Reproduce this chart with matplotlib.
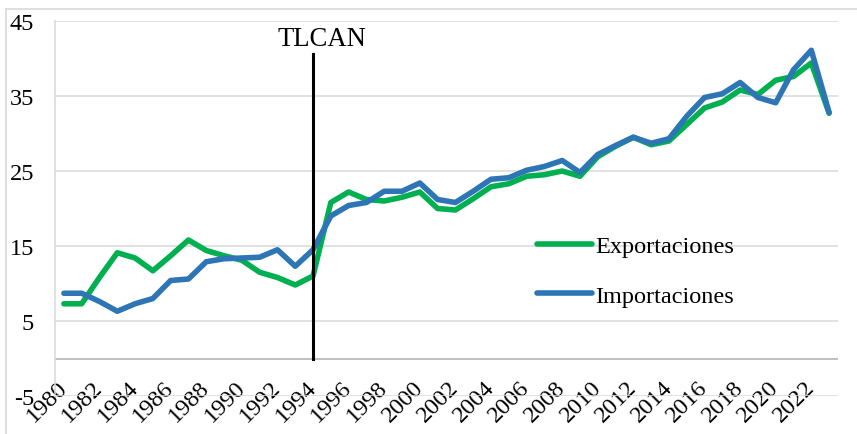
import numpy as np
import matplotlib
matplotlib.use("Agg")
import matplotlib.pyplot as plt
from matplotlib.lines import Line2D

years = list(range(1980, 2024))

exportaciones = [7.3, 7.3, 10.8, 14.1, 13.4, 11.7, 13.7, 15.8, 14.4, 13.7,
                 13.1, 11.5, 10.8, 9.8, 11.0, 20.8, 22.2, 21.2, 21.0, 21.5,
                 22.2, 20.0, 19.8, 21.3, 22.9, 23.3, 24.3, 24.5, 25.0, 24.3,
                 26.9, 28.3, 29.5, 28.5, 29.0, 31.2, 33.4, 34.2, 35.8, 35.2,
                 37.1, 37.6, 39.4, 32.7]

importaciones = [8.7, 8.7, 7.6, 6.3, 7.3, 8.0, 10.4, 10.6, 12.9, 13.3,
                 13.4, 13.5, 14.5, 12.3, 14.5, 19.0, 20.4, 20.8, 22.3, 22.3,
                 23.4, 21.2, 20.8, 22.3, 23.9, 24.1, 25.1, 25.6, 26.4, 24.8,
                 27.2, 28.4, 29.5, 28.7, 29.3, 32.3, 34.8, 35.3, 36.8, 34.8,
                 34.1, 38.5, 41.1, 32.8]

y_ticks = [-5, 5, 15, 25, 35, 45]
x_tick_years = list(range(1980, 2023, 2))

tlcan_year = 1994
tlcan_top = 40.6

plt.rcParams["font.family"] = ["Liberation Serif", "DejaVu Serif"]
plt.rcParams["axes.unicode_minus"] = False

fig = plt.figure(figsize=(8.57, 4.35), dpi=100)
ax = fig.add_axes([55 / 857, 1 - 397 / 435, (838 - 55) / 857, (397 - 22) / 435])

# outer chart border (left and top visible)
fig.add_artist(Line2D([6 / 857, 6 / 857], [0, 1 - 9.5 / 435], color="#d9d9d9", lw=1.2))
fig.add_artist(Line2D([6 / 857, 1], [1 - 9.5 / 435, 1 - 9.5 / 435], color="#d9d9d9", lw=1.2))

ax.set_xlim(1979.5, 2023.5)
ax.set_ylim(-5, 45)
ax.set_yticks(y_ticks)
ax.grid(axis="y", color="#d9d9d9", lw=1.1)
ax.set_axisbelow(True)
for s in ["top", "right", "bottom"]:
    ax.spines[s].set_visible(False)
ax.spines["left"].set_color("#d9d9d9")
ax.spines["left"].set_linewidth(1.1)
ax.axhline(0, color="#bfbfbf", lw=1.4, zorder=1)

ax.plot(years, exportaciones, color="#00b050", lw=4.0,
        solid_capstyle="round", solid_joinstyle="round", label="Exportaciones", zorder=3)
ax.plot(years, importaciones, color="#2e75b6", lw=4.0,
        solid_capstyle="round", solid_joinstyle="round", label="Importaciones", zorder=4)

ax.plot([tlcan_year, tlcan_year], [0, tlcan_top], color="black", lw=2.2, zorder=5)
ax.text(tlcan_year + 0.5, 42.7, "TLCAN", fontsize=19.2, ha="center", va="center")

ax.set_xticks(x_tick_years)
ax.set_xticklabels([str(y) for y in x_tick_years], rotation=45, ha="right",
                   va="center", rotation_mode="anchor", fontsize=17.5)
ax.tick_params(axis="x", length=0, pad=-9)
ax.tick_params(axis="y", length=0, pad=15, labelsize=17.5)

fig.legend(loc="center left", bbox_to_anchor=(537 / 857, 1 - 272 / 435),
           frameon=False, fontsize=17.5, handlelength=2.25, handletextpad=0.15,
           labelspacing=1.12, borderpad=0, borderaxespad=0)

fig.savefig("out.png", dpi=100)
